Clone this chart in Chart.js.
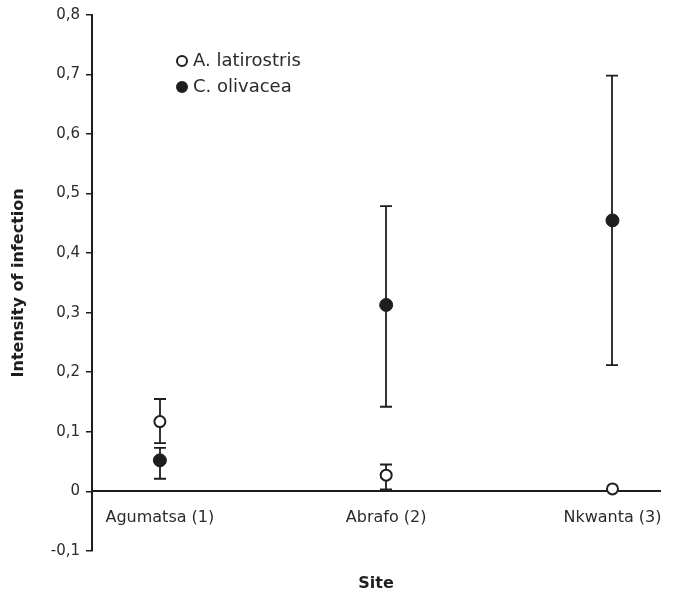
<!DOCTYPE html>
<html>
<head>
<meta charset="utf-8">
<script src="https://cdn.jsdelivr.net/npm/chart.js@4.4.1/dist/chart.umd.min.js"></script>
<style>
  html, body { margin: 0; padding: 0; background: #fff; }
  #wrap { position: relative; width: 676px; height: 598px; }
  .key { position: absolute; left: 176px; height: 20px; line-height: 20px;
         font-family: "DejaVu Sans", sans-serif; font-size: 18px; color: #2b2b2b; white-space: nowrap; }
  .dot { display: inline-block; box-sizing: border-box; width: 12px; height: 12px; border-radius: 50%;
         vertical-align: -1px; margin-right: 5px; border: 2px solid #1e1e1e; }
</style>
</head>
<body>
<div id="wrap">
  <canvas id="siteChart" width="676" height="598"></canvas>
  <div class="key" style="top:50px"><span class="dot" style="background:#fff"></span>A. latirostris</div>
  <div class="key" style="top:76px"><span class="dot" style="background:#1e1e1e"></span>C. olivacea</div>
</div>
<script>
// sites along the x axis
const categories = ['Agumatsa (1)', 'Abrafo (2)', 'Nkwanta (3)'];

// A. latirostris (open circles): mean and error bar ends
const latMean = [0.117, 0.027, 0.004];
const latLow  = [0.081, 0.003, null];
const latHigh = [0.155, 0.045, null];

// C. olivacea (filled circles)
const oliMean = [0.052, 0.313, 0.455];
const oliLow  = [0.021, 0.142, 0.212];
const oliHigh = [0.073, 0.479, 0.698];

const yTicks = [-0.1, 0, 0.1, 0.2, 0.3, 0.4, 0.5, 0.6, 0.7, 0.8];

const ink = '#1e1e1e';

function points(values) {
    return values.map((v, i) => ({ x: i + 1, y: v }));
}

// vertical error bars with caps, drawn under the markers
const errorBars = {
    id: 'errorBars',
    beforeDatasetsDraw(chart) {
        const { ctx, scales: { x, y } } = chart;
        const sets = [[latLow, latHigh], [oliLow, oliHigh]];
        ctx.save();
        ctx.strokeStyle = ink;
        ctx.lineWidth = 1.8;
        sets.forEach(([low, high]) => {
            low.forEach((lo, i) => {
                if (lo === null) return;
                const px = Math.round(x.getPixelForValue(i + 1));
                const y1 = y.getPixelForValue(lo);
                const y2 = y.getPixelForValue(high[i]);
                ctx.beginPath();
                ctx.moveTo(px, y1); ctx.lineTo(px, y2);
                ctx.moveTo(px - 6, y1); ctx.lineTo(px + 6, y1);
                ctx.moveTo(px - 6, y2); ctx.lineTo(px + 6, y2);
                ctx.stroke();
            });
        });
        ctx.restore();
    }
};

const ctx = document.getElementById('siteChart').getContext('2d');
new Chart(ctx, {
    type: 'scatter',
    data: {
        datasets: [{
            label: 'A. latirostris',
            data: points(latMean),
            backgroundColor: '#ffffff',
            borderColor: ink,
            borderWidth: 2,
            pointRadius: 5.5
        }, {
            label: 'C. olivacea',
            data: points(oliMean),
            backgroundColor: ink,
            borderColor: ink,
            borderWidth: 1,
            pointRadius: 6.5
        }]
    },
    options: {
        responsive: false,
        animation: false,
        layout: { padding: { top: 12, right: 16, left: 0, bottom: 0 } },
        plugins: {
            legend: { display: false },
            tooltip: { enabled: false },
            title: {
                display: true,
                text: 'Site',
                position: 'bottom',
                fullSize: false,
                color: '#1e1e1e',
                font: { family: 'DejaVu Sans', size: 16, weight: 'bold' },
                padding: { top: 23, bottom: 5 }
            }
        },
        scales: {
            x: {
                type: 'linear',
                position: { y: 0 },
                min: 0.7,
                max: 3.21,
                afterBuildTicks: (scale) => {
                    scale.ticks = categories.map((c, i) => ({ value: i + 1 }));
                },
                afterFit: (scale) => {
                    scale.height = 0;
                    scale.paddingLeft = 0;
                    scale.paddingRight = 0;
                },
                grid: { display: true, drawOnChartArea: false, drawTicks: false },
                border: { display: true, color: ink, width: 2 },
                ticks: {
                    padding: 17,
                    maxRotation: 0,
                    autoSkip: false,
                    color: '#2b2b2b',
                    font: { family: 'DejaVu Sans', size: 16 },
                    callback: (v) => categories[Math.round(v) - 1]
                }
            },
            y: {
                min: -0.1,
                max: 0.8,
                afterBuildTicks: (scale) => {
                    scale.ticks = yTicks.map(v => ({ value: v }));
                },
                afterFit: (scale) => { scale.width = 92; },
                grid: { display: true, drawOnChartArea: false, drawTicks: true, tickLength: 6, color: ink, lineWidth: 1.5 },
                border: { display: true, color: ink, width: 2 },
                title: {
                    display: true,
                    text: 'Intensity of infection',
                    color: '#1e1e1e',
                    font: { family: 'DejaVu Sans', size: 16, weight: 'bold' },
                    padding: { top: 9, bottom: 0 }
                },
                ticks: {
                    padding: 6,
                    color: '#2b2b2b',
                    font: { family: 'DejaVu Sans', size: 15 },
                    callback: (v) => Math.abs(v) < 1e-9 ? '0' : v.toFixed(1).replace('.', ',')
                }
            }
        }
    },
    plugins: [errorBars]
});
</script>
</body>
</html>
